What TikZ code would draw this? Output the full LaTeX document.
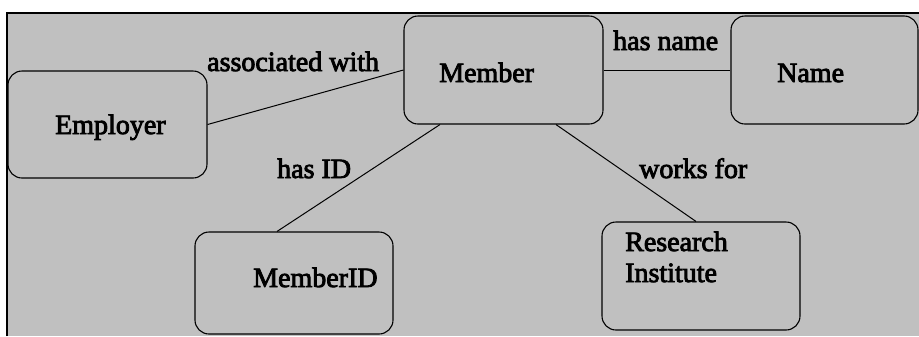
\documentclass[tikz,border=0pt]{standalone}
\usepackage{fontspec}
\setmainfont{Liberation Serif}[RawFeature={embolden=3}]
\usetikzlibrary{calc}
\definecolor{bggray}{RGB}{192,192,192}
\tikzset{
  entity/.style={draw=black, line width=1.1bp, rounded corners=14bp, inner sep=0pt},
  txt/.style={inner sep=0pt, font=\fontsize{28bp}{31bp}\selectfont},
  link/.style={draw=black, line width=1bp}
}
\begin{document}
\begin{tikzpicture}[x=1bp,y=-1bp]
\useasboundingbox (0,0) rectangle (919,336);
\fill[white] (0,0) rectangle (919,336);
\fill[bggray] (7,13) rectangle (919,336);
\draw[line width=1.2bp] (7,336) -- (7,13) -- (919,13);

\node[entity, minimum width=199bp, minimum height=107bp] (emp) at (107.5,124.5) {};
\node[entity, minimum width=199bp, minimum height=108bp] (mem) at (503.5,70) {};
\node[entity, minimum width=187bp, minimum height=108bp] (nam) at (824.5,70) {};
\node[entity, minimum width=198bp, minimum height=102bp] (mid) at (294,283) {};
\node[entity, minimum width=198bp, minimum height=108bp] (res) at (701,276) {};

\node[txt, anchor=base west] (tEmp) at (55,134) {Employer};
\node[txt, anchor=base west] (tMem) at (439,82) {Member};
\node[txt, anchor=base west] (tNam) at (777,82) {Name};
\node[txt, anchor=base west] (tMid) at (253,287) {MemberID};
\node[txt, anchor=base west, align=left] (tRes) at (625,282) {Research\\Institute};

\node[txt, anchor=base west] (lAssoc) at (207,71) {associated with};
\node[txt, anchor=base west] (lHasID) at (277,178) {has ID};
\node[txt, anchor=base west] (lHasName) at (613,50) {has name};
\node[txt, anchor=base west] (lWorks) at (639,178) {works for};

\draw[link] (emp.east) -- (mem.west);
\draw[link] (mem.east) -- (nam.west);
\draw[link] ([xshift=-63.5bp]mem.south) -- ([xshift=-17bp]mid.north);
\draw[link] ([xshift=52.5bp]mem.south) -- ([xshift=-5bp]res.north);
\end{tikzpicture}
\end{document}
